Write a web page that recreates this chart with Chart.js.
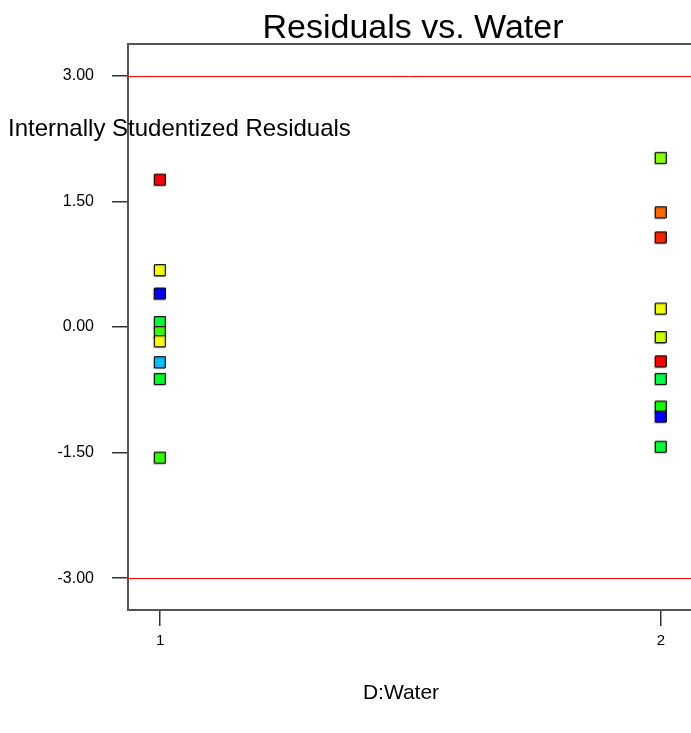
<!DOCTYPE html>
<html>
<head>
<meta charset="utf-8">
<script src="https://cdn.jsdelivr.net/npm/chart.js@4/dist/chart.umd.min.js"></script>
<style>
  html, body { margin: 0; padding: 0; background: #fff; }
  #wrap { width: 691px; height: 733px; }
</style>
</head>
<body>
<div id="wrap"><canvas id="residChart"></canvas></div>
<script>
// water level (factor D) for each run
const waterLevel = [1, 1, 1, 1, 1, 1, 1, 1, 1,
                    2, 2, 2, 2, 2, 2, 2, 2, 2, 2];
// internally studentized residuals
const residuals = [1.76, 0.68, 0.40, 0.06, -0.06, -0.17, -0.42, -0.62, -1.56,
                   2.02, 1.37, 1.07, 0.22, -0.12, -0.41, -0.62, -0.95, -1.07, -1.43];
const pointColors = ['#ff0000', '#f0ff00', '#0000ff', '#00ff33', '#33ff00', '#f5ff00', '#00bfff', '#00ff22', '#33ff00',
                     '#88ff00', '#ff6600', '#ff2200', '#f0ff00', '#c8ff00', '#ff0000', '#00ff44', '#11ff00', '#0000ff', '#00ff33'];
const yTicks = [-3, -1.5, 0, 1.5, 3];
const xTicks = [1, 2];
const limits = [3, -3];

const FONT = "'Liberation Sans', Arial, sans-serif";

const points = waterLevel.map((w, i) => ({ x: w, y: residuals[i] }));

// titles, frame top, limit lines
const decor = {
  id: 'decor',
  beforeDatasetsDraw(chart) {
    const { ctx, chartArea: a, scales } = chart;
    ctx.save();
    ctx.strokeStyle = '#ff0000';
    ctx.lineWidth = 1;
    limits.forEach(v => {
      const y = Math.round(scales.y.getPixelForValue(v)) + 0.5;
      ctx.beginPath();
      ctx.moveTo(a.left, y);
      ctx.lineTo(a.right, y);
      ctx.stroke();
    });
    ctx.strokeStyle = '#555';
    ctx.lineWidth = 2;
    ctx.beginPath();
    ctx.moveTo(a.left - 1, a.top);
    ctx.lineTo(a.right, a.top);
    ctx.stroke();
    ctx.restore();

    // soft shadow behind the markers
    ctx.save();
    ctx.shadowColor = 'rgba(0,0,0,0.35)';
    ctx.shadowOffsetX = -1;
    ctx.shadowOffsetY = 1;
    ctx.shadowBlur = 1;
  },
  afterDatasetsDraw(chart) {
    chart.ctx.restore();
  },
  afterDraw(chart) {
    const { ctx } = chart;
    ctx.save();
    ctx.fillStyle = '#000';
    ctx.textBaseline = 'alphabetic';
    ctx.textAlign = 'center';
    ctx.font = '34px ' + FONT;
    ctx.fillText('Residuals vs. Water', 413, 38);
    ctx.font = '21px ' + FONT;
    ctx.fillText('D:Water', 401, 699);
    ctx.textAlign = 'left';
    ctx.font = '24px ' + FONT;
    ctx.fillText('Internally Studentized Residuals', 8, 136);
    ctx.restore();
  }
};

new Chart(document.getElementById('residChart'), {
  type: 'scatter',
  data: {
    datasets: [{
      data: points,
      pointStyle: 'rect',
      pointRadius: 7.8,
      pointHoverRadius: 7.8,
      pointBackgroundColor: pointColors,
      pointBorderColor: '#111',
      pointBorderWidth: 1
    }]
  },
  options: {
    responsive: true,
    maintainAspectRatio: false,
    animation: false,
    layout: { autoPadding: false, padding: { top: 44, left: 0, right: 0, bottom: 0 } },
    plugins: {
      legend: { display: false },
      tooltip: { enabled: false },
      title: { display: false }
    },
    scales: {
      x: {
        type: 'linear',
        min: 0.936,
        max: 2.06,
        afterBuildTicks: s => { s.ticks = xTicks.map(v => ({ value: v })); },
        afterFit: s => { s.height = 123; },
        ticks: {
          color: '#000',
          font: { family: FONT, size: 15 },
          padding: 6,
          maxRotation: 0,
          callback: v => String(v)
        },
        grid: { drawOnChartArea: false, drawTicks: true, tickLength: 16, color: '#333', lineWidth: 1.5 },
        border: { display: true, color: '#555', width: 2 }
      },
      y: {
        min: -3.38,
        max: 3.38,
        afterBuildTicks: s => { s.ticks = yTicks.map(v => ({ value: v })); },
        afterFit: s => { s.width = 128; },
        ticks: {
          color: '#000',
          font: { family: FONT, size: 16 },
          padding: 18,
          callback: v => Number(v).toFixed(2)
        },
        grid: { drawOnChartArea: false, drawTicks: true, tickLength: 16, color: '#333', lineWidth: 1.5 },
        border: { display: true, color: '#555', width: 2 }
      }
    }
  },
  plugins: [decor]
});
</script>
</body>
</html>
